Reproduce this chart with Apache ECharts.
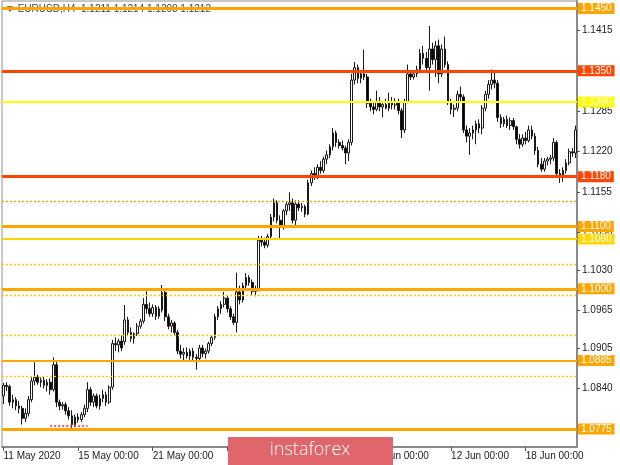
<!DOCTYPE html>
<html><head><meta charset="utf-8">
<script src="https://cdn.jsdelivr.net/npm/echarts@6/dist/echarts.min.js"></script>
<style>html,body{margin:0;padding:0;background:#fff}#c{width:620px;height:465px}</style>
</head><body><div id="c"></div>
<script>
// EURUSD H4 candles (11 May 2020 .. 18 Jun 2020)
const opens=[1.0828,1.0845,1.0843,1.0818,1.0822,1.0812,1.0808,1.0792,1.0800,1.0822,
1.0852,1.0858,1.0850,1.0853,1.0845,1.0850,1.0838,1.0878,1.0818,1.0812,
1.0814,1.0804,1.0796,1.0782,1.0794,1.0790,1.0798,1.0808,1.0838,1.0818,
1.0828,1.0812,1.0824,1.0830,1.0818,1.0842,1.0912,1.0910,1.0916,1.0915,
1.0950,1.0930,1.0920,1.0928,1.0940,1.0948,1.0975,1.0968,1.0960,1.0970,
1.0956,1.0966,1.0994,1.0955,1.0940,1.0945,1.0930,1.0900,1.0895,1.0898,
1.0892,1.0900,1.0890,1.0888,1.0905,1.0896,1.0900,1.0912,1.0922,1.0955,
1.0968,1.0975,1.0985,1.0968,1.0955,1.0946,1.0995,1.0982,1.1005,1.1018,
1.1010,1.0996,1.1000,1.1078,1.1075,1.1070,1.1084,1.1115,1.1138,1.1110,
1.1100,1.1125,1.1135,1.1138,1.1110,1.1136,1.1130,1.1132,1.1120,1.1170,
1.1185,1.1180,1.1195,1.1190,1.1208,1.1215,1.1228,1.1250,1.1235,1.1230,
1.1226,1.1218,1.1235,1.1335,1.1355,1.1338,1.1345,1.1340,1.1298,1.1292,
1.1288,1.1300,1.1292,1.1296,1.1290,1.1300,1.1295,1.1300,1.1286,1.1255,
1.1300,1.1345,1.1340,1.1345,1.1352,1.1378,1.1370,1.1355,1.1385,1.1368,
1.1390,1.1345,1.1385,1.1360,1.1300,1.1288,1.1290,1.1312,1.1308,1.1255,
1.1245,1.1250,1.1255,1.1265,1.1258,1.1290,1.1312,1.1328,1.1335,1.1330,
1.1275,1.1265,1.1272,1.1262,1.1270,1.1260,1.1240,1.1232,1.1242,1.1238,
1.1255,1.1245,1.1222,1.1200,1.1192,1.1205,1.1208,1.1210,1.1235,1.1185,
1.1180,1.1190,1.1202,1.1220,1.1218];
const highs=[1.0849,1.0850,1.0846,1.0830,1.0826,1.0820,1.0812,1.0808,1.0828,1.0858,
1.0882,1.0862,1.0858,1.0860,1.0855,1.0856,1.0890,1.0885,1.0822,1.0818,
1.0818,1.0810,1.0805,1.0798,1.0800,1.0802,1.0814,1.0850,1.0842,1.0832,
1.0832,1.0830,1.0838,1.0835,1.0845,1.0918,1.0922,1.0920,1.0925,1.0974,
1.0955,1.0938,1.0930,1.0945,1.0952,1.0985,1.0996,1.0978,1.0975,1.0974,
1.0972,1.1006,1.0998,1.0960,1.0950,1.0948,1.0934,1.0910,1.0905,1.0906,
1.0904,1.0905,1.0895,1.0910,1.0910,1.0904,1.0915,1.0925,1.0960,1.0972,
1.0980,1.0995,1.0990,1.0972,1.0960,1.1026,1.1005,1.1010,1.1025,1.1022,
1.1015,1.1005,1.1085,1.1085,1.1082,1.1088,1.1120,1.1145,1.1142,1.1118,
1.1128,1.1140,1.1155,1.1145,1.1142,1.1142,1.1138,1.1135,1.1175,1.1190,
1.1195,1.1200,1.1205,1.1212,1.1222,1.1232,1.1258,1.1254,1.1240,1.1238,
1.1230,1.1240,1.1345,1.1364,1.1360,1.1350,1.1384,1.1345,1.1305,1.1300,
1.1318,1.1308,1.1298,1.1305,1.1315,1.1308,1.1306,1.1305,1.1290,1.1305,
1.1360,1.1350,1.1350,1.1358,1.1385,1.1390,1.1380,1.1422,1.1395,1.1398,
1.1400,1.1392,1.1405,1.1365,1.1305,1.1296,1.1318,1.1325,1.1312,1.1262,
1.1258,1.1262,1.1270,1.1272,1.1295,1.1318,1.1335,1.1352,1.1348,1.1335,
1.1280,1.1276,1.1278,1.1275,1.1274,1.1262,1.1248,1.1248,1.1252,1.1262,
1.1262,1.1250,1.1228,1.1210,1.1210,1.1212,1.1215,1.1242,1.1238,1.1192,
1.1195,1.1208,1.1225,1.1226,1.1262];
const lows=[1.0815,1.0836,1.0812,1.0808,1.0805,1.0800,1.0782,1.0786,1.0795,1.0818,
1.0845,1.0846,1.0842,1.0840,1.0835,1.0830,1.0835,1.0810,1.0805,1.0806,
1.0798,1.0790,1.0776,1.0778,1.0785,1.0786,1.0794,1.0802,1.0812,1.0810,
1.0808,1.0806,1.0818,1.0812,1.0815,1.0838,1.0900,1.0898,1.0900,1.0910,
1.0925,1.0915,1.0912,1.0924,1.0936,1.0944,1.0960,1.0955,1.0955,1.0950,
1.0952,1.0962,1.0948,1.0935,1.0930,1.0925,1.0895,1.0888,1.0885,1.0888,
1.0886,1.0885,1.0870,1.0884,1.0890,1.0888,1.0896,1.0908,1.0918,1.0950,
1.0960,1.0970,1.0962,1.0950,1.0942,1.0930,1.0975,1.0978,1.1000,1.1005,
1.0990,1.0988,1.0996,1.1068,1.1065,1.1066,1.1080,1.1108,1.1105,1.1080,
1.1095,1.1118,1.1125,1.1105,1.1100,1.1125,1.1124,1.1115,1.1118,1.1165,
1.1175,1.1176,1.1185,1.1186,1.1200,1.1210,1.1222,1.1228,1.1225,1.1222,
1.1200,1.1205,1.1230,1.1328,1.1330,1.1330,1.1335,1.1290,1.1285,1.1280,
1.1285,1.1285,1.1275,1.1288,1.1285,1.1288,1.1288,1.1280,1.1242,1.1250,
1.1298,1.1335,1.1336,1.1340,1.1348,1.1360,1.1348,1.1318,1.1360,1.1340,
1.1330,1.1340,1.1355,1.1295,1.1280,1.1276,1.1285,1.1300,1.1250,1.1235,
1.1215,1.1240,1.1232,1.1250,1.1248,1.1285,1.1305,1.1320,1.1322,1.1268,
1.1258,1.1260,1.1258,1.1255,1.1255,1.1232,1.1225,1.1228,1.1232,1.1235,
1.1240,1.1215,1.1195,1.1188,1.1188,1.1198,1.1200,1.1205,1.1178,1.1170,
1.1172,1.1185,1.1198,1.1212,1.1210];
const closes=[1.0845,1.0843,1.0818,1.0822,1.0812,1.0808,1.0792,1.0800,1.0822,1.0852,
1.0858,1.0850,1.0853,1.0845,1.0850,1.0838,1.0878,1.0818,1.0812,1.0814,
1.0804,1.0796,1.0782,1.0794,1.0790,1.0798,1.0808,1.0838,1.0818,1.0828,
1.0812,1.0824,1.0830,1.0818,1.0842,1.0912,1.0910,1.0916,1.0905,1.0950,
1.0930,1.0920,1.0928,1.0940,1.0948,1.0975,1.0968,1.0960,1.0970,1.0956,
1.0968,1.0994,1.0955,1.0940,1.0945,1.0930,1.0900,1.0895,1.0898,1.0892,
1.0900,1.0890,1.0888,1.0905,1.0896,1.0900,1.0912,1.0922,1.0955,1.0968,
1.0975,1.0985,1.0968,1.0955,1.0946,1.0995,1.0982,1.1005,1.1018,1.1010,
1.0996,1.1000,1.1078,1.1075,1.1070,1.1084,1.1115,1.1138,1.1110,1.1100,
1.1125,1.1135,1.1138,1.1110,1.1136,1.1130,1.1132,1.1120,1.1170,1.1185,
1.1180,1.1195,1.1190,1.1208,1.1215,1.1228,1.1250,1.1235,1.1230,1.1226,
1.1218,1.1235,1.1335,1.1355,1.1338,1.1345,1.1340,1.1298,1.1292,1.1288,
1.1300,1.1292,1.1296,1.1290,1.1300,1.1295,1.1300,1.1286,1.1255,1.1300,
1.1345,1.1340,1.1345,1.1352,1.1378,1.1370,1.1355,1.1385,1.1368,1.1390,
1.1345,1.1385,1.1360,1.1300,1.1288,1.1290,1.1312,1.1308,1.1255,1.1245,
1.1250,1.1255,1.1265,1.1258,1.1290,1.1312,1.1328,1.1335,1.1330,1.1275,
1.1265,1.1272,1.1262,1.1270,1.1260,1.1240,1.1232,1.1242,1.1238,1.1255,
1.1245,1.1222,1.1200,1.1192,1.1205,1.1208,1.1210,1.1235,1.1185,1.1180,
1.1190,1.1202,1.1220,1.1218,1.1255];

const xTickIndex=[0,24,48,72,96,120,144,168];
const xTickLabels=['11 May 2020','15 May 00:00','21 May 00:00','27 May 00:00','2 Jun 00:00','8 Jun 00:00','12 Jun 00:00','18 Jun 00:00'];
const yTicks=[1.1415,1.1350,1.1285,1.1220,1.1155,1.1090,1.1030,1.0965,1.0905,1.0840,1.0775];
const levels=[1.1450,1.1350,1.1300,1.1180,1.1100,1.1080,1.1000,1.0885,1.0775];
const dottedLevels=[1.1140,1.1040,1.0990,1.0925,1.0860];
const lowMarkValue=1.0780;
const lowMarkFrom=15, lowMarkTo=27;
const headerText='\u25BC EURUSD,H4  1.1211 1.1214 1.1208 1.1212';
const watermarkText='instaforex';

// styles
const levelColors=['#FFA500','#FF4500','#FFFF00','#FF4500','#FFA500','#FFD700','#FFA500','#FFA500','#FFA500'];
const levelWidths=[3,3,2,3,3,2,3,2,3];
const dottedColors=['#FFA010','#FFC800','#FFC800','#FFC800','#FFC800'];
const lowMarkStyle={color:'#FF2020',width:1.5,type:[2,2],opacity:1};

const cats=opens.map((_,i)=>String(i));
const data=opens.map((o,i)=>[o,closes[i],lows[i],highs[i]]);
const tickSet=new Set(xTickIndex);
const FONT='"Liberation Sans", Arial, sans-serif';

const mlData=[];
dottedLevels.forEach((v,k)=>mlData.push({yAxis:v,lineStyle:{color:dottedColors[k],width:1.3,type:[2,2]},label:{show:false}}));
levels.forEach((v,k)=>mlData.push({yAxis:v,lineStyle:{color:levelColors[k],width:levelWidths[k],type:'solid'},
  label:{show:true,position:'end',formatter:v.toFixed(4),color:'#fff',backgroundColor:levelColors[k],padding:[1,3,0,3],fontSize:10,fontFamily:FONT,distance:1}}));
mlData.push([{coord:[lowMarkFrom,lowMarkValue],lineStyle:lowMarkStyle,label:{show:false}},
             {coord:[lowMarkTo,lowMarkValue],lineStyle:lowMarkStyle,label:{show:false}}]);

const chart=echarts.init(document.getElementById('c'),null,{renderer:'canvas'});
chart.setOption({
  animation:false,
  backgroundColor:'#fff',
  grid:{left:2,right:43,top:1,bottom:18,show:true,borderColor:'#909090',borderWidth:1},
  xAxis:{type:'category',data:cats,boundaryGap:true,
    axisLine:{show:true,lineStyle:{color:'#8a8a8a',width:2}},
    axisTick:{show:true,interval:(i)=>tickSet.has(i),alignWithLabel:true,length:4,lineStyle:{color:'#555'}},
    axisLabel:{interval:(i)=>tickSet.has(i),formatter:(v,i)=>xTickLabels[xTickIndex.indexOf(i)]||'',align:'left',margin:4,fontSize:10,color:'#222',fontFamily:FONT},
    splitLine:{show:false}},
  yAxis:{type:'value',position:'right',min:1.0746,max:1.1462,
    axisLine:{show:true,lineStyle:{color:'#8a8a8a',width:2}},
    axisTick:{show:true,customValues:yTicks,length:3,lineStyle:{color:'#555'}},
    axisLabel:{customValues:yTicks,formatter:(v)=>v.toFixed(4),margin:5,fontSize:10,color:'#222',fontFamily:FONT},
    splitLine:{show:false}},
  series:[{type:'candlestick',data:data,barWidth:'70%',
    itemStyle:{color:'#ffffff',color0:'#000000',borderColor:'#1a1a1a',borderColor0:'#1a1a1a',borderWidth:1},
    markLine:{symbol:['none','none'],silent:true,animation:false,precision:4,data:mlData}}],
  graphic:[
    {type:'text',left:5,top:4,z:1,style:{text:headerText,fill:'#444',font:'10px '+FONT}},
    {type:'rect',z:100,shape:{x:228,y:437,width:165,height:28},style:{fill:'#E0666B'}},
    {type:'text',z:101,x:310,y:450,style:{text:watermarkText,fill:'#fff',font:'300 18px "Open Sans"',align:'center',verticalAlign:'middle',textAlign:'center',textVerticalAlign:'middle'}}
  ]
});
</script></body></html>
